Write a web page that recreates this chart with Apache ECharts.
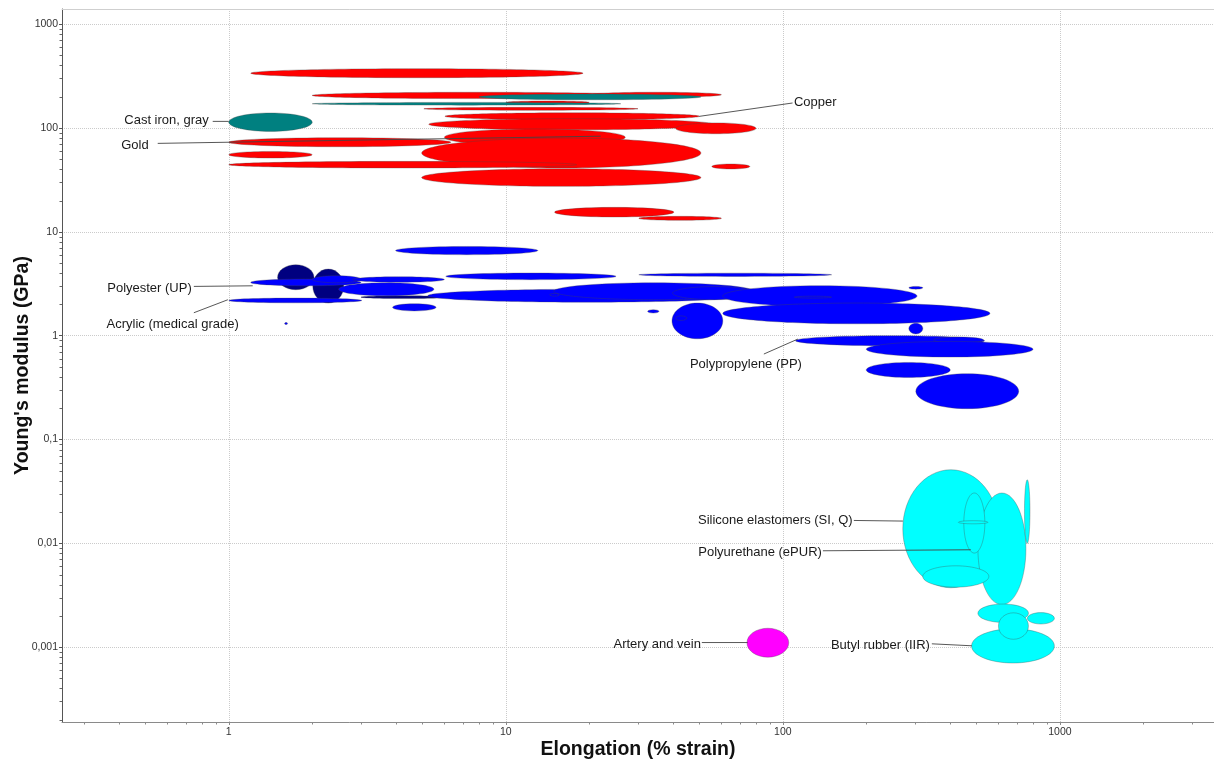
<!DOCTYPE html>
<html>
<head>
<meta charset="utf-8">
<title>Young's modulus vs elongation</title>
<script src="https://cdn.jsdelivr.net/npm/echarts/dist/echarts.min.js"></script>
<style>
  html, body { margin: 0; padding: 0; background: #fff; }
  #chart { width: 1214px; height: 760px; }
</style>
</head>
<body>
<div id="chart"></div>
<script>
// Each material is a range: [elongation min, elongation max, modulus min, modulus max]
// (elongation in % strain, Young's modulus in GPa). Drawn as an ellipse spanning the range on log axes.

const metals = [
  [1.2, 19, 305, 373],
  [2, 30.6, 192, 221],
  [20, 60, 198, 221],
  [10, 20, 171, 182],
  [5.06, 30, 148, 158],
  [6.03, 50, 120, 140],     // copper
  [5.27, 56, 96, 123],
  [41, 80, 88, 112],
  [1, 6.33, 66, 80.6],
  [6, 27, 67.5, 98],
  [4.97, 50.6, 41.2, 80],
  [1, 2, 51.4, 59.5],
  [1, 18, 41.2, 47.7],
  [55.4, 76, 40.3, 45],
  [4.97, 50.6, 27.4, 40.5],
  [15, 40.4, 13.9, 17.2],
  [30.2, 60, 12.9, 14.1]
];

const castIrons = [
  [1, 2, 92.7, 139.5],      // cast iron, gray
  [8, 50.6, 187, 212],
  [2, 26, 166, 176.5]
];

const thermosets = [
  [1.5, 2.03, 2.77, 4.82],
  [2.01, 2.6, 2.06, 4.38],
  [3, 6.1, 2.28, 2.42]
];

const thermoplastics = [
  [4.0, 13.05, 6.02, 7.23],
  [6.07, 25, 3.46, 4.01],
  [30.2, 150, 3.72, 4.0],
  [1.2, 3.0, 3.02, 3.51],   // polyester (UP)
  [2, 3, 3.23, 3.78],
  [2.8, 6, 3.27, 3.69],
  [2.49, 5.5, 2.42, 3.23],
  [1, 3.02, 2.07, 2.30],    // acrylic (medical grade)
  [5.23, 73.6, 2.1, 2.8],
  [14.9, 78.6, 2.22, 3.23],
  [40, 80, 2.22, 2.97],
  [14.4, 15.6, 2.4, 2.55],
  [60.7, 305, 1.91, 3.03],
  [110, 150, 2.3, 2.4],
  [285, 320, 2.8, 2.98],
  [3.9, 5.6, 1.73, 2.03],
  [32.5, 35.7, 1.65, 1.78],
  [39.8, 60.7, 0.933, 2.06],
  [41, 45, 1.4, 1.55],
  [60.7, 559, 1.30, 2.06],
  [285, 320, 1.04, 1.32],
  [111, 535, 0.80, 1.0],    // polypropylene (PP)
  [350, 530, 0.85, 0.97],
  [200, 800, 0.622, 0.88],
  [200, 402, 0.396, 0.552],
  [302, 710, 0.198, 0.43],
  [1.59, 1.63, 1.28, 1.34]
];

const elastomers = [
  [271, 602, 0.00373, 0.0511],   // silicone elastomers
  [506, 754, 0.00256, 0.0305],
  [745, 780, 0.01, 0.0409],
  [320, 554, 0.00378, 0.00607],
  [450, 536, 0.00805, 0.0305],   // polyurethane (ePUR)
  [430, 550, 0.0154, 0.0165],
  [480, 955, 0.000703, 0.0015],  // butyl rubber (IIR)
  [506, 770, 0.00173, 0.0026],
  [763, 955, 0.00167, 0.00215],
  [600, 770, 0.00119, 0.00214]
];

const tissues = [
  [74.2, 105, 0.0008, 0.00152]   // artery and vein
];

// Axis tick labels (decades)
const xTickLabels = ['1', '10', '100', '1000'];
const xTickExp = [0, 1, 2, 3];
const yTickLabels = ['0,001', '0,01', '0,1', '1', '10', '100', '1000'];
const yTickExp = [-3, -2, -1, 0, 1, 2, 3];

// Callout labels: text, then [line start x, y, line end x, y, text x, y] in data units
const calloutText = [
  'Cast iron, gray', 'Gold', 'Copper', 'Polyester (UP)', 'Acrylic (medical grade)',
  'Polypropylene (PP)', 'Silicone elastomers (SI, Q)', 'Polyurethane (ePUR)',
  'Artery and vein', 'Butyl rubber (IIR)'
];
const calloutAlign = ['right', 'right', 'left', 'right', 'left', 'left', 'right', 'right', 'right', 'right'];
const calloutGeom = [
  [0.875, 115.8, 1, 115.8, 0.847, 122.9],
  [0.554, 71.1, 22.0, 83.4, 0.514, 69.5],
  [108.4, 174.1, 49.9, 129.4, 109.6, 183.2],
  [0.748, 2.98, 1.22, 3.02, 0.735, 2.94],
  [0.748, 1.662, 0.992, 2.217, 0.362, 1.322],
  [85.4, 0.665, 113.3, 0.927, 46.2, 0.5445],
  [180.4, 0.01659, 271.2, 0.01637, 178.5, 0.01722],
  [139.5, 0.00847, 477, 0.00866, 138.3, 0.00847],
  [51.0, 0.001107, 74.6, 0.001107, 50.6, 0.001107],
  [345, 0.001076, 481, 0.00103, 339.5, 0.001076]
];

const X_MIN = 0.25, X_MAX = 3600;
const Y_MIN = 0.00019, Y_MAX = 1400;
const FONT = "'Liberation Sans', Arial, Helvetica, sans-serif";

function labelFor(exps, labels) {
  return function (v) {
    const e = Math.round(Math.log10(v));
    const i = exps.indexOf(e);
    if (i < 0 || Math.abs(Math.log10(v) - e) > 1e-6) return '';
    return labels[i];
  };
}

function ellipseSeries(data, color) {
  return {
    type: 'custom',
    coordinateSystem: 'cartesian2d',
    data: data,
    encode: { x: [0, 1], y: [2, 3] },
    silent: true,
    animation: false,
    renderItem: function (params, api) {
      const a = api.coord([api.value(0), api.value(2)]);
      const b = api.coord([api.value(1), api.value(3)]);
      return {
        type: 'ellipse',
        shape: {
          cx: (a[0] + b[0]) / 2,
          cy: (a[1] + b[1]) / 2,
          rx: Math.max(Math.abs(b[0] - a[0]) / 2, 0.5),
          ry: Math.max(Math.abs(b[1] - a[1]) / 2, 0.5)
        },
        style: { fill: color, stroke: 'rgba(70,70,70,0.55)', lineWidth: 0.6 }
      };
    }
  };
}

// Minor ticks at 2..9 of each decade, outside the plot frame
const minorTicks = {
  type: 'custom',
  coordinateSystem: 'cartesian2d',
  data: [[1, 1]],
  silent: true,
  animation: false,
  z: 4,
  renderItem: function (params, api) {
    const cs = params.coordSys;
    const left = cs.x, bottom = cs.y + cs.height;
    const children = [];
    for (let n = -4; n <= 3; n++) {
      for (let k = 2; k <= 9; k++) {
        const v = k * Math.pow(10, n);
        if (v > X_MIN && v < X_MAX) {
          const px = Math.round(api.coord([v, 1])[0]) + 0.5;
          children.push({ type: 'line', shape: { x1: px, y1: bottom, x2: px, y2: bottom + 2.5 },
            style: { stroke: '#8a8a8a', lineWidth: 1 } });
        }
        if (v > Y_MIN && v < Y_MAX) {
          const py = Math.round(api.coord([1, v])[1]) + 0.5;
          children.push({ type: 'line', shape: { x1: left - 2.5, y1: py, x2: left, y2: py },
            style: { stroke: '#666', lineWidth: 1 } });
        }
      }
    }
    return { type: 'group', children: children };
  }
};

// Callout text with leader lines
const callouts = {
  type: 'custom',
  coordinateSystem: 'cartesian2d',
  data: calloutGeom,
  encode: { x: [0, 2, 4], y: [1, 3, 5] },
  silent: true,
  animation: false,
  z: 10,
  renderItem: function (params, api) {
    const i = params.dataIndex;
    const p0 = api.coord([api.value(0), api.value(1)]);
    const p1 = api.coord([api.value(2), api.value(3)]);
    const pt = api.coord([api.value(4), api.value(5)]);
    return {
      type: 'group',
      children: [
        { type: 'line', shape: { x1: p0[0], y1: p0[1], x2: p1[0], y2: p1[1] },
          style: { stroke: '#444', lineWidth: 0.9 } },
        { type: 'text', x: pt[0], y: pt[1] + 1.5,
          style: { text: calloutText[i], fill: '#1a1a1a', font: '13px ' + FONT,
                   align: calloutAlign[i], verticalAlign: 'middle' } }
      ]
    };
  }
};

const chart = echarts.init(document.getElementById('chart'), null, { renderer: 'canvas' });

const gridLine = { show: true, lineStyle: { color: '#cbcbcb', type: [1, 1], width: 1 } };

chart.setOption({
  animation: false,
  backgroundColor: '#ffffff',
  textStyle: { fontFamily: FONT },
  grid: { left: 62, right: 0, top: 9, bottom: 38, containLabel: false, outerBoundsMode: 'none' },
  xAxis: [
    {
      type: 'log', logBase: 10, min: X_MIN, max: X_MAX,
      name: 'Elongation (% strain)', nameLocation: 'middle', nameGap: 18, nameMoveOverlap: false,
      nameTextStyle: { fontSize: 19.5, fontWeight: 'bold', color: '#111', fontFamily: FONT },
      axisLine: { onZero: false, lineStyle: { color: '#8a8a8a', width: 1 } },
      axisTick: { length: 3, lineStyle: { color: '#8a8a8a' } },
      axisLabel: { fontSize: 10.5, color: '#333', margin: 5, fontFamily: FONT,
        showMinLabel: false, showMaxLabel: false, formatter: labelFor(xTickExp, xTickLabels) },
      splitLine: gridLine,
      minorTick: { show: false }
    },
    {
      type: 'log', logBase: 10, min: X_MIN, max: X_MAX, position: 'top',
      axisLine: { onZero: false, lineStyle: { color: '#cfcfcf', width: 1 } },
      axisTick: { show: false }, axisLabel: { show: false }, splitLine: { show: false }
    }
  ],
  yAxis: {
    type: 'log', logBase: 10, min: Y_MIN, max: Y_MAX,
    name: "Young's modulus (GPa)", nameLocation: 'middle', nameGap: 29, nameRotate: 90,
    nameMoveOverlap: false,
    nameTextStyle: { fontSize: 19.5, fontWeight: 'bold', color: '#111', fontFamily: FONT },
    axisLine: { onZero: false, lineStyle: { color: '#555', width: 1 } },
    axisTick: { length: 3, lineStyle: { color: '#555' } },
    axisLabel: { fontSize: 10.5, color: '#333', margin: 4, fontFamily: FONT,
      showMinLabel: false, showMaxLabel: false, formatter: labelFor(yTickExp, yTickLabels) },
    splitLine: gridLine
  },
  series: [
    ellipseSeries(metals, '#ff0000'),
    ellipseSeries(castIrons, '#008080'),
    ellipseSeries(thermosets, '#000080'),
    ellipseSeries(thermoplastics, '#0000ff'),
    ellipseSeries(elastomers, '#00ffff'),
    ellipseSeries(tissues, '#ff00ff'),
    minorTicks,
    callouts
  ]
});
</script>
</body>
</html>
